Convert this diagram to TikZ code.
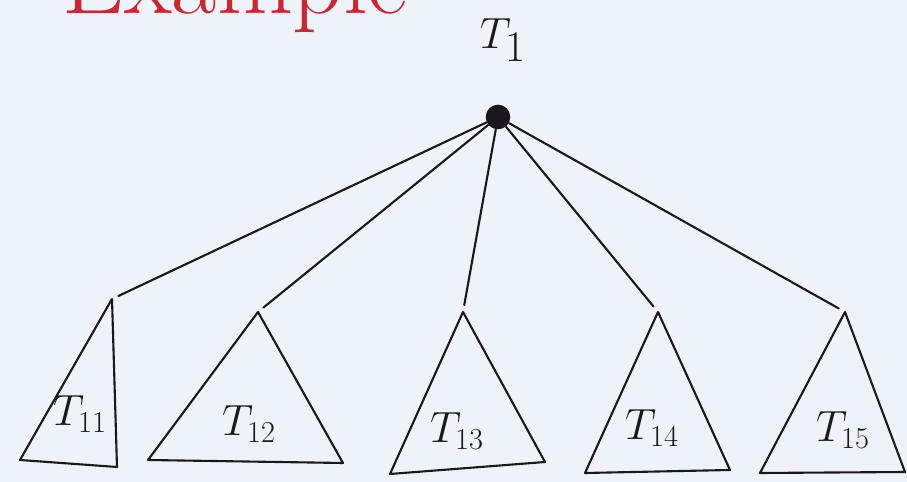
\documentclass[tikz,border=0pt]{standalone}
\usepackage{xcolor}
\definecolor{paper}{RGB}{238,243,249}
\definecolor{pen}{RGB}{30,22,30}
\definecolor{redpen}{RGB}{200,40,50}

\begin{document}
\begin{tikzpicture}[x=0.02cm, y=-0.02cm, line join=round, line cap=round]
  % Paper
  \useasboundingbox (0,0) rectangle (907,482);
  \clip (0,0) rectangle (907,482);
  \fill[paper] (0,0) rectangle (907,482);

  % Heading, cut off by the top edge
  \node[anchor=base west, inner sep=0, text=redpen, font=\fontsize{56}{64}\selectfont] (title) at (62,14) {Example};

  % Root
  \node[circle, fill=pen, inner sep=0, minimum size=14] (root) at (498,117) {};
  \node[text=pen, font=\fontsize{36}{40}\selectfont] (rootlbl) at (503,40) {$T_1$};

  % Subtrees
  \foreach \n/\ax/\ay/\lx/\ly/\rx/\ry/\tx/\ty in {
    11/112/299/20/460/117/467/80/414,
    12/258/312/148/460/343/463/249/424,
    13/463/312/390/474/545/462/457/431,
    14/658/312/585/473/730/470/652/428,
    15/845/312/760/473/905/472/843/430} {
    \coordinate (apex\n) at (\ax,\ay);
    \coordinate (bl\n) at (\lx,\ly);
    \coordinate (br\n) at (\rx,\ry);
    \draw[pen, line width=1.2pt] (apex\n) -- (bl\n) -- (br\n) -- cycle;
    \node[text=pen, font=\fontsize{24}{28}\selectfont] (lbl\n) at (\tx,\ty) {$T_{\n}$};
    \draw[pen, line width=1.2pt, shorten >=4pt] (root) -- (apex\n);
  }
\end{tikzpicture}
\end{document}
